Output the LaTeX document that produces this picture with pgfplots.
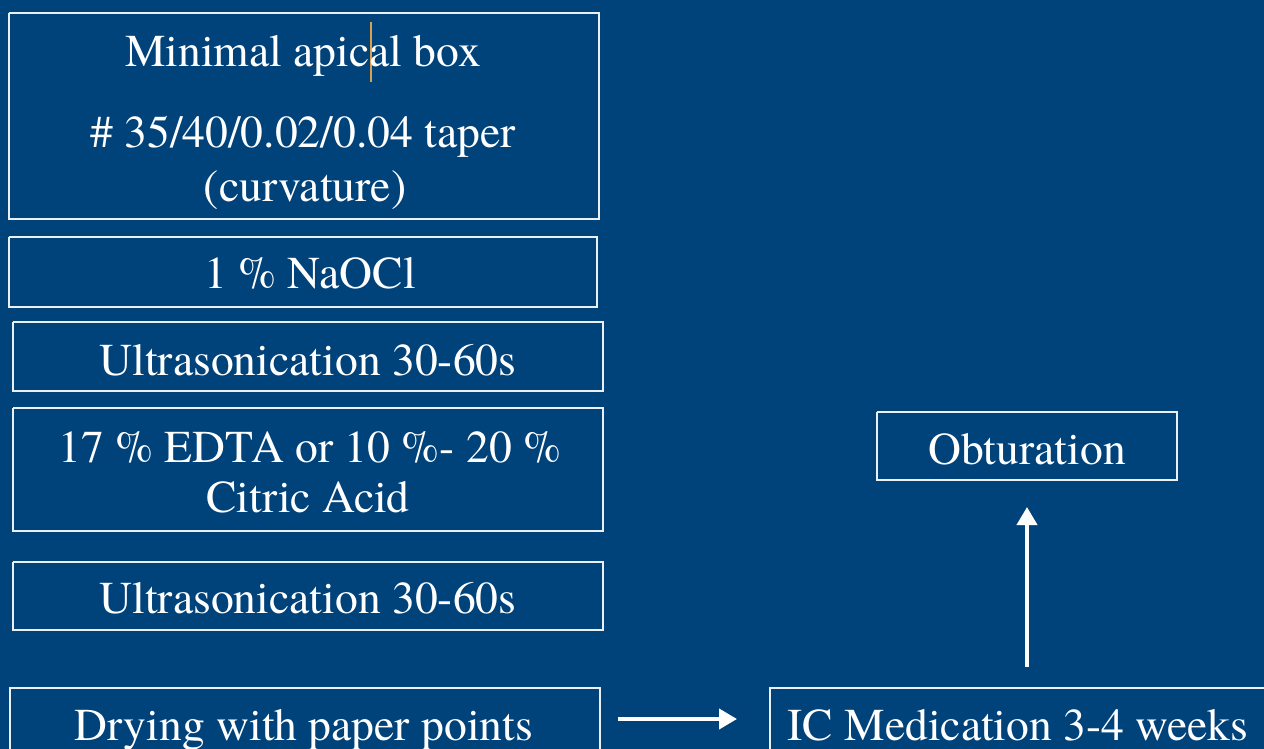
\documentclass[border=0pt]{standalone}
\usepackage{pgfplots}
\pgfplotsset{compat=1.18}
\usepackage{fontspec}
\setmainfont{TeX Gyre Termes}
\usetikzlibrary{arrows.meta}
\definecolor{bgblue}{HTML}{00427A}
\definecolor{cursor}{HTML}{D9A050}

\tikzset{lbl/.style={text=white, font=\fontsize{22.8}{27}\selectfont, anchor=base, inner sep=0pt}}

\begin{document}
\begin{tikzpicture}
  \begin{axis}[
      width=632pt, height=374.5pt,
      scale only axis,
      xmin=0, xmax=1264,
      ymin=0, ymax=749,
      y dir=reverse,
      axis lines=none,
      axis background/.style={fill=bgblue},
  ]
    % boxes (pixel coords, y down)
    \pgfplotsset{box/.style={draw=white!92!bgblue, line width=1pt, line join=miter}}
    \addplot[box] coordinates {(9,13)(599,13)(599,219)(9,219)(9,13)};
    \addplot[box] coordinates {(9,237)(597,237)(597,307)(9,307)(9,237)};
    \addplot[box] coordinates {(13,322)(603,322)(603,391)(13,391)(13,322)};
    \addplot[box] coordinates {(13,408)(603,408)(603,531)(13,531)(13,408)};
    \addplot[box] coordinates {(13,562)(603,562)(603,630)(13,630)(13,562)};
    \addplot[box] coordinates {(10,760)(10,688)(600,688)(600,760)};
    \addplot[box] coordinates {(770,760)(770,688)(1270,688)};
    \addplot[box] coordinates {(877,412)(1177,412)(1177,480)(877,480)(877,412)};

    % arrows
    \addplot[white, line width=2pt, -{Triangle[length=9pt,width=10pt]}] coordinates {(618,719)(737,719)};
    \addplot[white, line width=2pt, -{Triangle[length=9pt,width=10pt]}] coordinates {(1027,667)(1027,507)};

    % text cursor
    \addplot[cursor, line width=0.6pt] coordinates {(371,22)(371,82)};

    % labels
    \node[lbl] at (axis cs:303,67) {Minimal apical box};
    \node[lbl] at (axis cs:303,148) {\# 35/40/0.02/0.04 taper};
    \node[lbl] at (axis cs:305,201) {(curvature)};
    \node[lbl] at (axis cs:310,288) {1 \% NaOCl};
    \node[lbl] at (axis cs:308,375) {Ultrasonication 30-60s};
    \node[lbl] at (axis cs:310,462) {17 \% EDTA or 10 \%- 20 \%};
    \node[lbl] at (axis cs:308,512) {Citric Acid};
    \node[lbl] at (axis cs:308,613) {Ultrasonication 30-60s};
    \node[lbl] at (axis cs:304,740) {Drying with paper points};
    \node[lbl] at (axis cs:1018,740) {IC Medication 3-4 weeks};
    \node[lbl] at (axis cs:1027,464) {Obturation};
  \end{axis}
  \pgfresetboundingbox
  \useasboundingbox (current axis.south west) rectangle (current axis.north east);
\end{tikzpicture}
\end{document}
